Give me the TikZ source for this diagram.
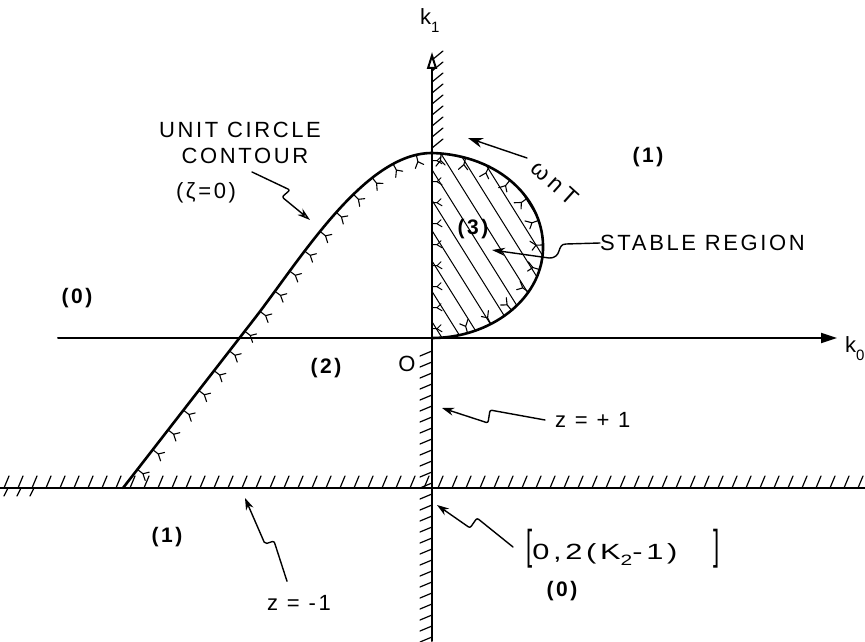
\documentclass[tikz,border=0pt]{standalone}
\usepackage{fontspec}
\setmainfont{Liberation Sans}[LetterSpace=12]
\usetikzlibrary{arrows.meta,decorations.markings}
\begin{document}
\begin{tikzpicture}[x=1pt,y=1pt,line cap=round,line join=round,
  lbl/.style={inner sep=0pt,font=\fontsize{22}{26}\selectfont},
  numlbl/.style={inner sep=0pt,font=\fontsize{21}{24}\selectfont\bfseries},
  axisline/.style={line width=2pt},
  hatchline/.style={line width=1.2pt},
  leader/.style={line width=1.4pt,rounded corners=2pt,-{Stealth[length=12pt,width=8pt]}},
  contour/.style={line width=2.6pt},
  ymarks/.style={postaction={decorate},decoration={markings,
     mark=between positions 0.03 and 0.98 step 25pt with {\draw[line width=1.1pt] (0,0) -- (0,-7) (-4,-13) -- (0,-7) -- (5,-11);}}},
  amarks/.style={postaction={decorate},decoration={markings,
     mark=between positions 0.05 and 0.97 step 21pt with {\draw[line width=1pt] (0,0) -- (0,-5) (-3,-10) -- (0,-5) -- (4,-9);}}}
]
\fill[white] (0,0) rectangle (865,641);
\useasboundingbox (0,0) rectangle (865,641);

% hatching of the stable region
\begin{scope}
\clip (432,488) .. controls (500,486) and (545,441) .. (543,391) .. controls (541,341) and (490,303) .. (432,303) -- cycle;
\foreach \x in {300,319,...,560} \draw[line width=1pt] (\x,500) -- ++(150,-240);
\end{scope}

% axes
\draw[axisline,-{Triangle[open,length=17pt,width=10pt]}] (432,0) -- (432,589);
\draw[axisline,-{Triangle[length=16pt,width=10pt]}] (58,303) -- (837,303);
\draw[line width=1.7pt] (0,153) -- (865,153);

% hatches
\foreach \y in {493,504,...,581} \draw[hatchline] (432,\y) -- ++(11,9);
\foreach \y in {4,15,...,296} \draw[hatchline] (432,\y) -- ++(-12,-5);
\foreach \x in {4,18,...,860} \draw[hatchline] (\x,153) -- ++(5,12);
\foreach \x in {4,17,30} \draw[hatchline] (\x,145) -- ++(4,8);

% unit circle contour
\draw[contour,ymarks] (123,153) -- (255,323) .. controls (302,384) and (365,488) .. (432,488)
   .. controls (500,486) and (545,441) .. (543,391) .. controls (541,341) and (490,303) .. (432,303);
\path[amarks] (432,303) -- (432,488);

% axis labels
\node[lbl,anchor=base west] (k1) at (420,616) {k\raisebox{-8pt}{\fontsize{15}{15}\selectfont 1}};
\node[lbl,anchor=base west] (k0) at (845,289) {k\raisebox{-8pt}{\fontsize{15}{15}\selectfont 0}};

% region labels
\node[numlbl] (r0a) at (77,343) {(0)};
\node[numlbl] (r2) at (326,273) {(2)};
\node[lbl] (orig) at (407,277) {O};
\node[numlbl] (r1a) at (648,484) {(1)};
\node[numlbl] (r3) at (473,412) {(3)};
\node[numlbl] (r1b) at (167,104) {(1)};
\node[numlbl] (r0b) at (562,50) {(0)};

% unit circle label
\node[lbl] (uc1) at (240,511) {UNIT CIRCLE};
\node[lbl] (uc2) at (245,485) {CONTOUR};
\node[lbl] (uc3) at (206,448) {(ζ=0)};
\coordinate (uct) at (310,421);
\draw[line width=1.4pt,rounded corners=2pt,-{Stealth[open,length=13pt,width=8pt]}]
  ([xshift=7pt,yshift=-8pt]uc2.south) -- (290,451) -- (282,444) -- (uct);

% omega_n T
\node[inner sep=0pt,font=\fontsize{23}{26}\selectfont\addfontfeature{LetterSpace=20},rotate=-42] (wt) at (555,458) {ωnT};
\coordinate (wtt) at (468,503);
\draw[line width=1.4pt,-{Stealth[length=15pt,width=10pt]}] (527,483) -- (wtt);

% stable region
\node[lbl,anchor=west] (sr) at (600,398) {STABLE REGION};
\coordinate (srt) at (492,391);
\draw[line width=1.4pt,-{Stealth[length=13pt,width=8pt]}] (sr.west) -- (566,397) .. controls (556,397) and (563,383) .. (549,383) -- (srt);

% z = +1
\node[lbl,anchor=west] (zp) at (555,221) {z = + 1};
\coordinate (zpt) at (442,233);
\draw[leader] ([xshift=-10pt]zp.west) -- (490,231) -- (488,218) -- (zpt);

% z = -1
\node[lbl] (zm) at (299,38) {z = -1};
\coordinate (zmt) at (245,143);
\draw[leader] ([xshift=-12pt,yshift=14pt]zm.north) -- (274,100) -- (265,97) -- (zmt);

% bracket
\node[lbl,anchor=west] (br) at (526,92) {\scalebox{1}[1.9]{[}\scalebox{1.4}[1]{0,2(K\raisebox{-6pt}{\fontsize{15}{15}\selectfont 2}-1)}\hspace{36pt}\scalebox{1}[1.9]{]}};
\coordinate (brt) at (437,136);
\draw[leader] ([xshift=-13pt,yshift=2pt]br.west) -- (477,123) -- (470,113) -- (brt);
\end{tikzpicture}
\end{document}
